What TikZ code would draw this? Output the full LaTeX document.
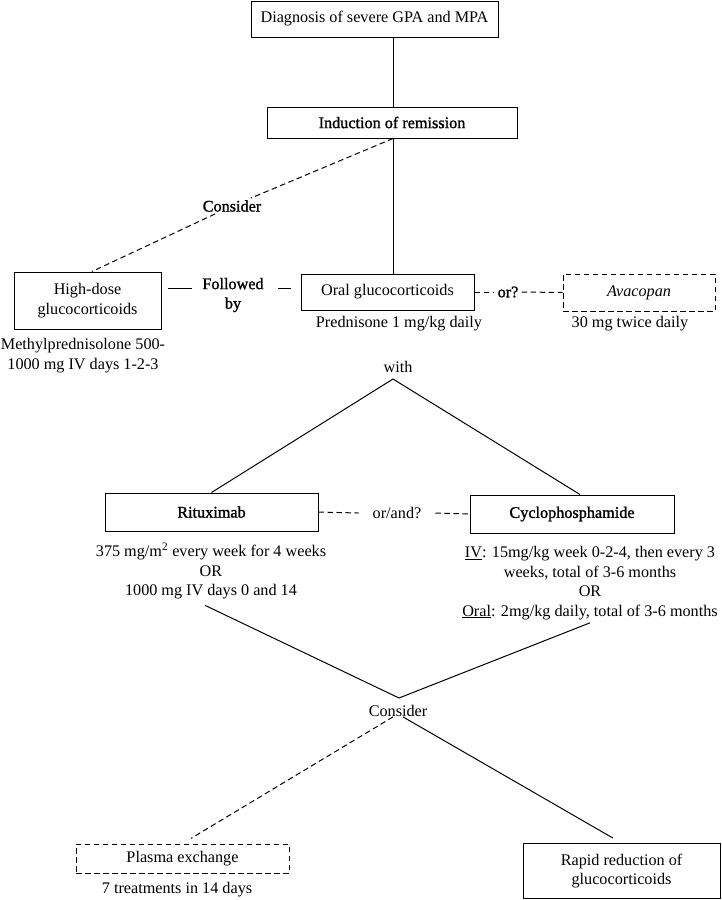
\documentclass[tikz,border=0pt]{standalone}
\usepackage{fontspec}
\setmainfont{Liberation Serif}
\newfontfamily\vsemi[FakeBold=1.3]{Liberation Serif}
\usepackage{tikz}
\usetikzlibrary{positioning,calc}
\newcommand{\vfont}{\fontsize{16.2}{19.5}\selectfont}
\newcommand{\vbold}{\vsemi\fontsize{16.2}{19.5}\selectfont}
\tikzset{
  vbox/.style={draw=black, line width=1pt, inner sep=0pt, align=center, font=\vfont},
  vdbox/.style={vbox, dash pattern=on 5.5pt off 3.5pt},
  vline/.style={black, line width=1pt},
  vdash/.style={vline, dash pattern=on 5.5pt off 3.5pt},
  vnote/.style={inner sep=0pt, align=center, font=\vfont},
  vlbl/.style={inner sep=2pt, align=center, font=\vbold},
}

\begin{document}
\begin{tikzpicture}[x=1pt,y=-1pt]
  \useasboundingbox (0,0) rectangle (722,900);
  \coordinate (spine) at (393,0);

  % top: diagnosis and induction
  \node[vbox, minimum width=247pt, minimum height=36pt] (diag) at (374.5,19)
    {Diagnosis of severe GPA and MPA};
  \node[vbox, font=\vbold, minimum width=250pt, minimum height=31pt] (induct) at (392,122.5)
    {Induction of remission};

  % glucocorticoids row
  \node[vlbl] (consA) at (232,206) {Consider};
  \node[vbox, minimum width=147pt, minimum height=57pt] (hdgc) at (87.5,300.5)
    {High-dose\\glucocorticoids};
  \node[vnote] (hdnote) at (83,355.5) {Methylprednisolone 500-\\1000 mg IV days 1-2-3};
  \node[vlbl, inner xsep=10pt] (follow) at (233,295) {Followed\\by};
  \coordinate (fy) at (0,288);
  \node[vbox, minimum width=173pt, minimum height=36pt] (oral) at (387.5,292)
    {Oral glucocorticoids};
  \node[vnote] (prednote) at (399,324) {Prednisone 1 mg/kg daily};
  \node[vlbl, inner xsep=3pt] (orq) at (508,292) {or?};
  \node[vdbox, minimum width=152pt, minimum height=37pt] (avac) at (639,292.5)
    {\itshape Avacopan};
  \node[vnote] (avnote) at (630,324) {30 mg twice daily};
  \node[vnote] (with) at (398,367) {with};
  \coordinate (split) at (393,379);

  % immunosuppressants
  \node[vbox, font=\vbold, minimum width=213pt, minimum height=38pt] (ritux) at (211.5,512)
    {Rituximab};
  \node[vnote, inner xsep=14pt] (orand) at (397,513) {or/and?};
  \node[vbox, font=\vbold, minimum width=204pt, minimum height=38pt] (cyclo) at (572,514)
    {Cyclophosphamide};
  \node[vnote] (rxnote) at (211,571)
    {375 mg/m\textsuperscript{2} every week for 4 weeks\\OR\\1000 mg IV days 0 and 14};
  \node[vnote] (cynote) at (590,583)
    {\underline{IV}: 15mg/kg week 0-2-4, then every 3\\weeks, total of 3-6 months\\OR\\
     \underline{Oral}: 2mg/kg daily, total of 3-6 months};

  % adjuncts
  \coordinate (vtip) at (399,698);
  \node[vnote] (consB) at (398,711) {Consider};
  \node[vdbox, minimum width=213pt, minimum height=29pt] (plasma) at (182.5,858.5)
    {Plasma exchange};
  \node[vnote] (plnote) at (177,890) {7 treatments in 14 days};
  \node[vbox, minimum width=197pt, minimum height=55pt] (rapid) at (621.5,871)
    {Rapid reduction of\\glucocorticoids};

  % connectors
  \draw[vline] (diag.south -| spine) -- (induct.north -| spine);
  \draw[vline] (induct.south -| spine) -- (oral.north -| spine);
  \draw[vdash] (induct.south -| spine) -- (consA);
  \draw[vdash] (consA) -- ([xshift=4.5pt]hdgc.north);
  \draw[vline, shorten <=6pt] (hdgc.east |- fy) -- (follow.west |- fy);
  \draw[vline, shorten <=4pt] (follow.east |- fy) -- ([xshift=-10pt]oral.west |- fy);
  \draw[vdash] (oral.east) -- (orq.west);
  \draw[vdash] (orq.east) -- (avac.west);
  \draw[vline] (split) -- (ritux.north);
  \draw[vline] (split) -- ([xshift=8pt]cyclo.north);
  \draw[vdash] (ritux.east) -- (orand.west);
  \draw[vdash] (orand.east) -- (cyclo.west);
  \draw[vline] ([shift={(-6pt,-6pt)}]rxnote.south) -- (vtip);
  \draw[vline] ([yshift=-3pt]cynote.south) -- (vtip);
  \draw[vdash, shorten >=10pt] ([xshift=-5pt]consB.south) -- (plasma.north);
  \draw[vline, shorten >=10pt] ([xshift=5pt]consB.south) -- (rapid.north);
\end{tikzpicture}
\end{document}
